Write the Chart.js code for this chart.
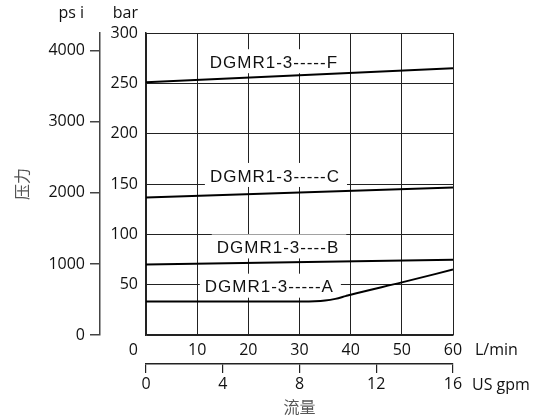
<!DOCTYPE html>
<html>
<head>
<meta charset="utf-8">
<script src="https://cdn.jsdelivr.net/npm/chart.js@4.4.1/dist/chart.umd.min.js"></script>
<style>
  html, body { margin: 0; padding: 0; background: #fff; }
  #wrap { width: 549px; height: 419px; }
</style>
</head>
<body>
<div id="wrap"><canvas id="chart" width="549" height="419"></canvas></div>
<script>
/* ─── Data ─── */
const flowEnds = [0, 60];                 // L/min
const pressF = [251, 265];                // bar
const pressC = [136.5, 146.5];
const pressB = [70, 74.7];
const flowA = [0, 30, 33, 35, 37, 39, 40, 50, 60];
const pressA = [33.2, 33.3, 33.5, 34.2, 35.9, 38.6, 40, 52.3, 65];

const seriesNames = ['DGMR1-3-----F', 'DGMR1-3-----C', 'DGMR1-3----B', 'DGMR1-3-----A'];
const nameFlow = [25, 25.2, 25.8, 24.1];  // label centres, L/min
const namePress = [270, 157, 86, 47];     // label centres, bar

const psiTicks = [0, 1000, 2000, 3000, 4000];
const barMax = 300, psiMax = 4250, lpmMax = 60, gpmMax = 16;

const INK = '#111';
const GRID = '#222';
const TICK_FONT = { family: '"Open Sans", sans-serif', size: 16 };

function pts(xs, ys) { return xs.map((x, i) => ({ x: x, y: ys[i] })); }

/* ─── Boxed curve names + extra axis captions ─── */
const annotate = {
  id: 'annotate',
  beforeDatasetsDraw(chart) {
    const { ctx, scales } = chart;
    ctx.save();
    ctx.font = '17px "Liberation Sans", Arial, sans-serif';
    ctx.letterSpacing = '1px';
    ctx.textAlign = 'center';
    ctx.textBaseline = 'middle';
    seriesNames.forEach((name, i) => {
      const cx = scales.x.getPixelForValue(nameFlow[i]);
      const cy = scales.y.getPixelForValue(namePress[i]);
      const w = ctx.measureText(name).width;
      ctx.fillStyle = '#fff';
      ctx.fillRect(cx - w / 2 - 5, cy - 14, w + 12, 24);
      ctx.fillStyle = INK;
      ctx.fillText(name, cx, cy);
    });
    ctx.restore();
  },
  afterDraw(chart) {
    const { ctx, scales } = chart;
    const x = scales.x, g = scales.gpm, y = scales.y, p = scales.psi;
    ctx.save();
    ctx.fillStyle = INK;
    ctx.font = '16px "Open Sans", sans-serif';
    ctx.textBaseline = 'middle';
    // unit captions above the pressure axes
    ctx.textAlign = 'right';
    ctx.fillText('ps i', p.right - 16, 13);
    ctx.fillText('bar', y.right - 8, 13);
    // shared zero at the corner
    ctx.fillText('0', y.right - 8, x.top + 15);
    // unit captions after the flow axes
    ctx.textAlign = 'left';
    ctx.fillText('L/min', x.right + 22, x.top + 15);
    ctx.fillText('US gpm', g.right + 19, g.top + 21);
    // Chinese axis titles
    ctx.fillStyle = '#555';
    ctx.font = '16px "Noto Sans CJK SC", sans-serif';
    ctx.textAlign = 'center';
    ctx.fillText('流量', (g.left + g.right) / 2, g.bottom + 7);
    ctx.translate(22, (p.top + p.bottom) / 2);
    ctx.rotate(-Math.PI / 2);
    ctx.fillText('压力', 0, 0);
    ctx.restore();
  }
};

function lineSet(data, extra) {
  return Object.assign({
    data: data,
    borderColor: '#000',
    borderWidth: 2,
    pointRadius: 0,
    fill: false,
    xAxisID: 'x',
    yAxisID: 'y'
  }, extra || {});
}

new Chart(document.getElementById('chart'), {
  type: 'line',
  data: {
    datasets: [
      lineSet(pts(flowEnds, pressF)),
      lineSet(pts(flowEnds, pressC)),
      lineSet(pts(flowEnds, pressB)),
      lineSet(pts(flowA, pressA), { cubicInterpolationMode: 'monotone' })
    ]
  },
  options: {
    responsive: false,
    animation: false,
    layout: { padding: { left: 30, right: 96, top: 33, bottom: 19 } },
    plugins: { legend: { display: false }, tooltip: { enabled: false } },
    scales: {
      x: {
        type: 'linear', position: 'bottom', min: 0, max: lpmMax,
        grid: { color: GRID, lineWidth: 1, drawTicks: false },
        border: { color: GRID, width: 1.5 },
        ticks: { stepSize: 10, padding: 6, color: INK, font: TICK_FONT, maxRotation: 0,
                 callback: v => (v === 0 ? '' : String(v)) },
        afterFit: s => { s.height = 29; }
      },
      gpm: {
        type: 'linear', position: 'bottom', min: 0, max: gpmMax,
        grid: { display: true, drawOnChartArea: false, drawTicks: true, tickLength: 9, color: GRID, lineWidth: 1.2 },
        border: { color: GRID, width: 1.5 },
        ticks: { stepSize: 4, padding: 2, color: INK, font: TICK_FONT, maxRotation: 0,
                 callback: v => String(v) },
        afterFit: s => { s.height = 36; }
      },
      y: {
        type: 'linear', position: 'left', min: 0, max: barMax,
        grid: { color: GRID, lineWidth: 1, drawTicks: false },
        border: { color: GRID, width: 1.5 },
        ticks: { stepSize: 50, padding: 8, color: INK, font: TICK_FONT,
                 callback: v => (v === 0 ? '' : String(v)) },
        afterFit: s => { s.width = 46; }
      },
      psi: {
        type: 'linear', position: 'left', min: 0, max: psiMax,
        grid: { display: true, drawOnChartArea: false, drawTicks: true, tickLength: 10, color: '#444', lineWidth: 1.5 },
        border: { color: '#444', width: 1.5 },
        ticks: { padding: 5, color: INK, font: TICK_FONT, autoSkip: false,
                 callback: v => String(v) },
        afterBuildTicks: s => { s.ticks = psiTicks.map(v => ({ value: v })); },
        afterFit: s => { s.width = 70; }
      }
    }
  },
  plugins: [annotate]
});
</script>
</body>
</html>
